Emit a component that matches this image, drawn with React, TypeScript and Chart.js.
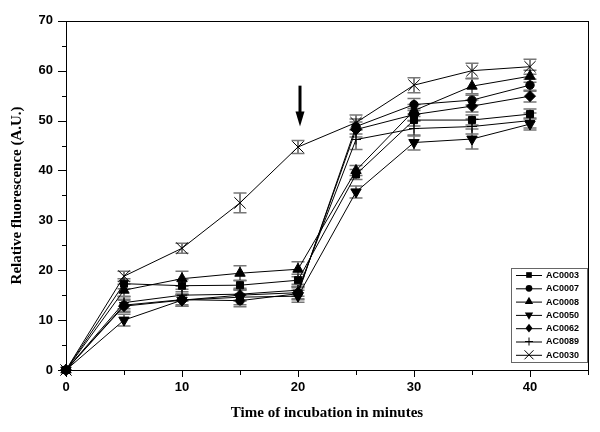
import React, { useEffect, useRef } from 'react';
import { Chart, registerables } from 'chart.js';

Chart.register(...registerables);

// ---- data ----
const times = [0, 5, 10, 15, 20, 25, 30, 35, 40];
const seriesNames = ['AC0003', 'AC0007', 'AC0008', 'AC0050', 'AC0062', 'AC0089', 'AC0030'];

const ac0003 = [0, 17.3, 16.9, 17.0, 18.0, 39.2, 50.1, 50.1, 51.3];
const ac0007 = [0, 13.0, 14.1, 13.9, 15.3, 48.8, 53.2, 54.1, 57.1];
const ac0008 = [0, 16.0, 18.3, 19.4, 20.2, 40.0, 52.0, 56.9, 58.9];
const ac0050 = [0, 10.0, 14.0, 14.6, 14.8, 35.7, 45.6, 46.3, 49.3];
const ac0062 = [0, 12.8, 14.0, 15.0, 15.5, 48.2, 51.2, 52.9, 54.9];
const ac0089 = [0, 13.5, 15.0, 15.2, 16.0, 46.2, 48.4, 48.8, 50.0];
const ac0030 = [0, 18.8, 24.4, 33.5, 44.7, 49.6, 57.1, 60.0, 60.8];

const errAc0003 = [0, 1.0, 1.2, 1.0, 1.2, 1.0, 1.2, 1.0, 1.0];
const errAc0007 = [0, 1.2, 1.0, 1.2, 1.2, 1.5, 1.2, 1.0, 1.2];
const errAc0008 = [0, 1.2, 1.5, 1.5, 1.5, 1.0, 1.2, 1.5, 1.2];
const errAc0050 = [0, 1.2, 1.2, 1.5, 1.2, 1.2, 1.5, 2.0, 1.2];
const errAc0062 = [0, 1.2, 1.2, 1.2, 1.2, 1.5, 1.2, 1.2, 1.2];
const errAc0089 = [0, 1.2, 1.2, 1.2, 1.2, 2.0, 1.5, 1.5, 1.5];
const errAc0030 = [0, 1.0, 1.0, 2.0, 1.3, 1.5, 1.5, 1.5, 1.5];

const seriesValues = [ac0003, ac0007, ac0008, ac0050, ac0062, ac0089, ac0030];
const seriesErrors = [errAc0003, errAc0007, errAc0008, errAc0050, errAc0062, errAc0089, errAc0030];

const xMin = 0;
const xMax = 45;
const yMin = 0;
const yMax = 70;
const xTickLabels = [0, 10, 20, 30, 40];
const yTickLabels = [0, 10, 20, 30, 40, 50, 60, 70];

// arrow marking the addition time
const arrowX = 20;
const arrowTop = 57;
const arrowTip = 48.8;

const xTitle = 'Time of incubation in minutes';
const yTitle = 'Relative fluorescence (A.U.)';

// ---- marker styles ----
type Marker = { style: string; radius: number; rotation: number };
const markers: Marker[] = [
  { style: 'rect', radius: 5, rotation: 0 },
  { style: 'circle', radius: 4.2, rotation: 0 },
  { style: 'triangle', radius: 6, rotation: 0 },
  { style: 'triangle', radius: 6, rotation: 180 },
  { style: 'rectRot', radius: 5.5, rotation: 0 },
  { style: 'cross', radius: 5, rotation: 0 },
  { style: 'crossRot', radius: 8, rotation: 0 },
];

function drawMarker(ctx: CanvasRenderingContext2D, m: Marker, x: number, y: number, scale: number) {
  const r = m.radius * scale;
  let rad = (m.rotation * Math.PI) / 180;
  ctx.save();
  ctx.fillStyle = '#000';
  ctx.strokeStyle = '#000';
  ctx.lineWidth = 1;
  ctx.beginPath();
  switch (m.style) {
    case 'rect': {
      const s = Math.SQRT1_2 * r;
      ctx.rect(x - s, y - s, 2 * s, 2 * s);
      ctx.fill();
      break;
    }
    case 'circle':
      ctx.arc(x, y, r, 0, Math.PI * 2);
      ctx.fill();
      break;
    case 'triangle': {
      ctx.moveTo(x + Math.sin(rad) * r, y - Math.cos(rad) * r);
      rad += (2 * Math.PI) / 3;
      ctx.lineTo(x + Math.sin(rad) * r, y - Math.cos(rad) * r);
      rad += (2 * Math.PI) / 3;
      ctx.lineTo(x + Math.sin(rad) * r, y - Math.cos(rad) * r);
      ctx.closePath();
      ctx.fill();
      break;
    }
    case 'rectRot':
      ctx.moveTo(x, y - r);
      ctx.lineTo(x + r * 0.8, y);
      ctx.lineTo(x, y + r);
      ctx.lineTo(x - r * 0.8, y);
      ctx.closePath();
      ctx.fill();
      break;
    case 'cross':
      ctx.moveTo(x - r, y);
      ctx.lineTo(x + r, y);
      ctx.moveTo(x, y - r);
      ctx.lineTo(x, y + r);
      ctx.stroke();
      break;
    case 'crossRot': {
      const d = r * Math.SQRT1_2;
      ctx.moveTo(x - d, y - d);
      ctx.lineTo(x + d, y + d);
      ctx.moveTo(x + d, y - d);
      ctx.lineTo(x - d, y + d);
      ctx.stroke();
      break;
    }
  }
  ctx.restore();
}

const errorBarPlugin = {
  id: 'errorBars',
  beforeDatasetsDraw(chart: any) {
    const ctx = chart.ctx as CanvasRenderingContext2D;
    const ys = chart.scales.y;
    chart.data.datasets.forEach((ds: any, i: number) => {
      const meta = chart.getDatasetMeta(i);
      meta.data.forEach((pt: any, j: number) => {
        const e = ds.errors[j];
        if (!e) return;
        const v = ds.data[j].y;
        const yt = ys.getPixelForValue(v + e);
        const yb = ys.getPixelForValue(v - e);
        const x = pt.x;
        ctx.save();
        ctx.strokeStyle = '#000';
        ctx.lineWidth = 1;
        ctx.beginPath();
        ctx.moveTo(x, yt);
        ctx.lineTo(x, yb);
        ctx.stroke();
        ctx.strokeStyle = '#777';
        ctx.lineWidth = 1.5;
        ctx.beginPath();
        ctx.moveTo(x - 6.5, yt);
        ctx.lineTo(x + 6.5, yt);
        ctx.moveTo(x - 6.5, yb);
        ctx.lineTo(x + 6.5, yb);
        ctx.stroke();
        ctx.restore();
      });
    });
  },
};

const framePlugin = {
  id: 'frame',
  afterDraw(chart: any) {
    const ctx = chart.ctx as CanvasRenderingContext2D;
    const { left, right, top, bottom } = chart.chartArea;
    const xs = chart.scales.x;
    const ys = chart.scales.y;
    ctx.save();
    ctx.strokeStyle = '#000';
    ctx.lineWidth = 1;
    ctx.strokeRect(Math.round(left) + 0.5, Math.round(top) + 0.5, Math.round(right - left), Math.round(bottom - top));
    ctx.beginPath();
    for (let v = yMin; v <= yMax; v += 5) {
      const y = Math.round(ys.getPixelForValue(v)) + 0.5;
      const len = v % 10 === 0 ? 8 : 4;
      ctx.moveTo(left - len, y);
      ctx.lineTo(left, y);
    }
    for (let v = xMin; v <= xMax; v += 5) {
      const x = Math.round(xs.getPixelForValue(v)) + 0.5;
      const len = v % 10 === 0 ? 7 : 5;
      ctx.moveTo(x, bottom);
      ctx.lineTo(x, bottom + len);
    }
    ctx.stroke();
    ctx.restore();
  },
};

const arrowPlugin = {
  id: 'arrow',
  afterDatasetsDraw(chart: any) {
    const ctx = chart.ctx as CanvasRenderingContext2D;
    const x = chart.scales.x.getPixelForValue(arrowX) + 2;
    const yTop = chart.scales.y.getPixelForValue(arrowTop);
    const yTip = chart.scales.y.getPixelForValue(arrowTip);
    const head = 15;
    ctx.save();
    ctx.strokeStyle = '#000';
    ctx.fillStyle = '#000';
    ctx.lineWidth = 3;
    ctx.beginPath();
    ctx.moveTo(x, yTop);
    ctx.lineTo(x, yTip - head + 1);
    ctx.stroke();
    ctx.beginPath();
    ctx.moveTo(x - 4.5, yTip - head);
    ctx.lineTo(x + 4.5, yTip - head);
    ctx.lineTo(x, yTip);
    ctx.closePath();
    ctx.fill();
    ctx.restore();
  },
};

const legendPlugin = {
  id: 'boxLegend',
  afterDraw(chart: any) {
    const ctx = chart.ctx as CanvasRenderingContext2D;
    const { right, bottom } = chart.chartArea;
    const boxW = 76;
    const rowH = 13.3;
    const boxH = 94;
    const bx = right - boxW - 1;
    const by = bottom - boxH - 8;
    ctx.save();
    ctx.strokeStyle = '#666';
    ctx.lineWidth = 1;
    ctx.strokeRect(Math.round(bx) + 0.5, Math.round(by) + 0.5, boxW, boxH);
    ctx.font = 'bold 9px "Liberation Sans", Arial, sans-serif';
    ctx.textBaseline = 'middle';
    ctx.textAlign = 'left';
    ctx.fillStyle = '#000';
    seriesNames.forEach((name, i) => {
      const y = by + 7 + i * rowH;
      ctx.strokeStyle = '#000';
      ctx.beginPath();
      ctx.moveTo(bx + 5, y + 0.5);
      ctx.lineTo(bx + 31, y + 0.5);
      ctx.stroke();
      drawMarker(ctx, markers[i], bx + 18, y, 0.8);
      ctx.fillText(name, bx + 35, y + 0.5);
    });
    ctx.restore();
  },
};

export default function App() {
  const canvasRef = useRef<HTMLCanvasElement | null>(null);

  useEffect(() => {
    if (!canvasRef.current) return;
    const datasets = seriesNames.map((name, i) => ({
      label: name,
      data: times.map((t, j) => ({ x: t, y: seriesValues[i][j] })),
      errors: seriesErrors[i],
      borderColor: '#000',
      borderWidth: 1,
      backgroundColor: '#000',
      pointStyle: markers[i].style,
      pointRadius: markers[i].radius,
      pointRotation: markers[i].rotation,
      pointBackgroundColor: '#000',
      pointBorderColor: '#000',
      pointBorderWidth: 1,
      pointHoverRadius: markers[i].radius,
      tension: 0,
      fill: false,
      clip: false,
    }));

    const tickFont = { family: '"Liberation Sans", Arial, sans-serif', size: 13, weight: 'bold' as const };
    const titleFont = { family: '"Liberation Serif", "Times New Roman", serif', size: 15, weight: 'bold' as const };

    const chart = new Chart(canvasRef.current, {
      type: 'line',
      data: { datasets: datasets as any },
      options: {
        responsive: false,
        animation: false,
        events: [],
        layout: { padding: { top: 17, right: 12, left: 4, bottom: 6 } },
        plugins: { legend: { display: false }, tooltip: { enabled: false } },
        scales: {
          x: {
            type: 'linear',
            min: xMin,
            max: xMax,
            afterFit: (s: any) => { s.height = 56; },
            grid: { display: true, drawOnChartArea: false, drawTicks: false, color: 'rgba(0,0,0,0)' },
            border: { display: false },
            ticks: {
              stepSize: 5,
              autoSkip: false,
              maxRotation: 0,
              padding: 10,
              color: '#000',
              font: tickFont,
              callback: (v: any) => (xTickLabels.includes(Number(v)) ? String(v) : ''),
            },
            title: { display: true, text: xTitle, color: '#000', font: titleFont, padding: { top: 4, bottom: 4 } },
          },
          y: {
            type: 'linear',
            min: yMin,
            max: yMax,
            afterFit: (s: any) => { s.width = 62; },
            grid: { display: true, drawOnChartArea: false, drawTicks: false, color: 'rgba(0,0,0,0)' },
            border: { display: false },
            ticks: {
              stepSize: 5,
              autoSkip: false,
              padding: 13,
              color: '#000',
              font: tickFont,
              callback: (v: any) => (yTickLabels.includes(Number(v)) ? String(v) : ''),
            },
            title: { display: true, text: yTitle, color: '#000', font: titleFont, padding: { top: 4, bottom: 4 } },
          },
        },
      },
      plugins: [errorBarPlugin, framePlugin, arrowPlugin, legendPlugin],
    });
    return () => chart.destroy();
  }, []);

  return (
    <div style={{ position: 'absolute', left: 0, top: 0, width: 600, height: 432, background: '#fff' }}>
      <canvas ref={canvasRef} width={600} height={432} style={{ display: 'block' }} />
    </div>
  );
}
